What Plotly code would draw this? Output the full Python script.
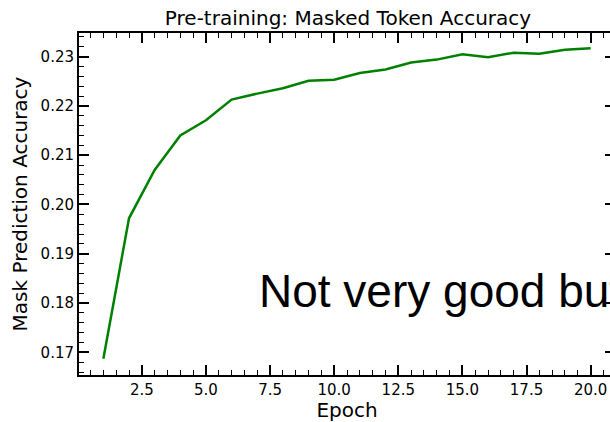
import plotly.graph_objects as go

epochs = list(range(1, 21))
accuracy = [0.1687, 0.1972, 0.2070, 0.2140, 0.2171, 0.2213, 0.2225, 0.2236,
            0.2251, 0.2253, 0.2267, 0.2274, 0.2288, 0.2294, 0.2305, 0.2299,
            0.2308, 0.2306, 0.2314, 0.2317]

x_tickvals = [2.5, 5, 7.5, 10, 12.5, 15, 17.5, 20]
x_ticktext = ["2.5", "5.0", "7.5", "10.0", "12.5", "15.0", "17.5", "20.0"]
y_tickvals = [0.17, 0.18, 0.19, 0.20, 0.21, 0.22, 0.23]
y_ticktext = ["0.17", "0.18", "0.19", "0.20", "0.21", "0.22", "0.23"]

title_text = "Pre-training: Masked Token Accuracy"
x_label = "Epoch"
y_label = "Mask Prediction Accuracy"
overlay_text = "Not very good but"

W, H = 620, 422
L, R, T, B = 79, 3, 33, 46

fig = go.Figure()
fig.add_trace(go.Scatter(x=epochs, y=accuracy, mode="lines",
                         line=dict(color="#008000", width=2.5)))

font = "DejaVu Sans, sans-serif"
fig.update_layout(
    width=W, height=H,
    margin=dict(l=L, r=R, t=T, b=B),
    paper_bgcolor="white", plot_bgcolor="white",
    showlegend=False,
    font=dict(family=font, color="black", size=15),
    title=dict(text=title_text, x=(L + (W - R)) / 2 / W, xanchor="center",
               y=1 - 18 / H, yanchor="middle",
               font=dict(family=font, size=20, color="black")),
)
fig.update_xaxes(
    range=[0.05, 20.95], tickvals=x_tickvals, ticktext=x_ticktext,
    ticks="inside", ticklen=10, tickwidth=1.5, tickcolor="black",
    minor=dict(dtick=0.5, tick0=0, ticks="inside", ticklen=5, tickwidth=1.2, tickcolor="black"),
    showline=True, linewidth=2, linecolor="black", mirror="allticks",
    showgrid=False, zeroline=False,
    title=dict(text=x_label, font=dict(size=20, family=font), standoff=6),
    tickfont=dict(size=15, family=font),
)
fig.update_yaxes(
    range=[0.1654, 0.2348], tickvals=y_tickvals, ticktext=y_ticktext,
    ticks="inside", ticklen=10, tickwidth=1.5, tickcolor="black",
    minor=dict(dtick=0.002, tick0=0.17, ticks="inside", ticklen=5, tickwidth=1.2, tickcolor="black"),
    showline=True, linewidth=2, linecolor="black", mirror="allticks",
    showgrid=False, zeroline=False,
    title=dict(text=y_label, font=dict(size=20, family=font), standoff=8),
    tickfont=dict(size=15, family=font),
)
pw = W - L - R
ph = H - T - B
fig.add_annotation(text=overlay_text, xref="paper", yref="paper",
                   x=(258 - L) / pw, y=(H - B - 292) / ph, xanchor="left", yanchor="middle",
                   showarrow=False,
                   font=dict(family="Liberation Sans, Arial, sans-serif", size=46, color="black"))

fig.write_html("out.html", config={"displayModeBar": False},
               post_script="document.body.style.margin='0';document.body.style.overflow='hidden';")
